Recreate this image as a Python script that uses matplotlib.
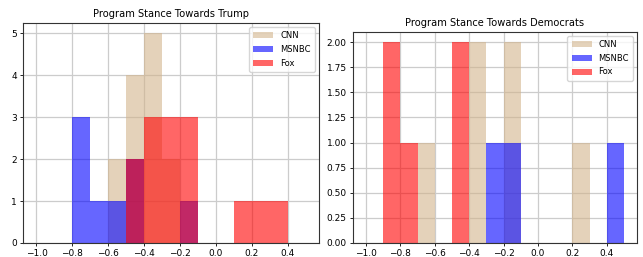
import numpy as np
import matplotlib
matplotlib.use("Agg")
import matplotlib.pyplot as plt

# Histogram bin edges (width 0.1 from -1.0 to 0.5)
bin_edges = np.round(np.linspace(-1.0, 0.5, 16), 2)
bin_centers = (bin_edges[:-1] + bin_edges[1:]) / 2

series = ["CNN", "MSNBC", "Fox"]
colors = ["tan", "blue", "red"]

# counts per bin, Trump panel
trump_cnn   = [0, 0, 0, 0, 2, 4, 5, 2, 0, 0, 0, 0, 0, 0, 0]
trump_msnbc = [0, 0, 3, 1, 1, 2, 0, 0, 1, 0, 0, 0, 0, 0, 0]
trump_fox   = [0, 0, 0, 0, 0, 2, 3, 3, 3, 0, 0, 1, 1, 1, 0]

# counts per bin, Democrats panel
dem_cnn   = [0, 0, 0, 1, 0, 0, 2, 0, 2, 0, 0, 0, 1, 0, 0]
dem_msnbc = [0, 0, 0, 0, 0, 0, 0, 1, 1, 0, 0, 0, 0, 0, 1]
dem_fox   = [0, 2, 1, 0, 0, 2, 0, 0, 0, 0, 0, 0, 0, 0, 0]

titles = ["Program Stance Towards Trump", "Program Stance Towards Democrats"]

fig = plt.figure(figsize=(6.43, 2.57), dpi=100)
ax1 = fig.add_axes([23/643, 14/257, 296/643, 220/257])
ax2 = fig.add_axes([353/643, 14/257, 284/643, 211/257])

for ax, data, title in [(ax1, [trump_cnn, trump_msnbc, trump_fox], titles[0]),
                        (ax2, [dem_cnn, dem_msnbc, dem_fox], titles[1])]:
    ax.grid(True, color="#cccccc", linewidth=0.9)
    ax.set_axisbelow(True)
    for name, col, counts in zip(series, colors, data):
        ax.hist(bin_centers, bins=bin_edges, weights=counts, color=col,
                alpha=0.6, label=name)
    ax.set_title(title, fontsize=7.1, pad=4)
    ax.tick_params(labelsize=6.5, length=2.5, width=0.6, pad=2)
    for s in ax.spines.values():
        s.set_linewidth(0.8)
        s.set_color("#333333")
    ax.legend(loc="upper right", fontsize=6, handlelength=2.4,
              borderpad=0.5, labelspacing=0.55)
    ax.set_xlim(-1.075, 0.575)

ax1.set_ylim(0, 5.25)
ax2.set_ylim(0, 2.1)
ax2.set_yticks(np.arange(0, 2.01, 0.25))
ax2.yaxis.set_major_formatter(matplotlib.ticker.FormatStrFormatter("%.2f"))

fig.savefig("out.png", dpi=100)
